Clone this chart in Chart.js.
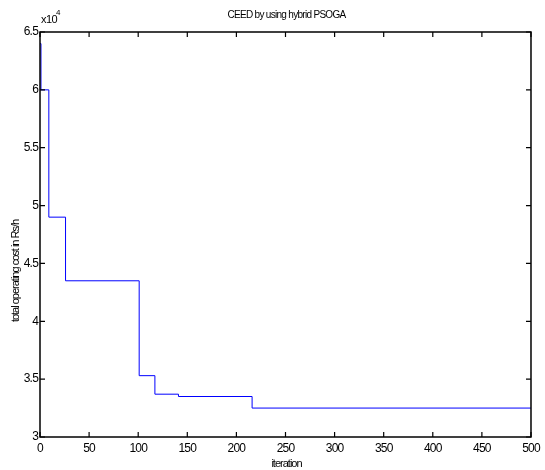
<!DOCTYPE html>
<html>
<head>
<meta charset="utf-8">
<script src="https://cdn.jsdelivr.net/npm/chart.js@4.4.0/dist/chart.umd.min.js"></script>
<style>
  html, body { margin: 0; padding: 0; background: #fff; }
  #wrap { width: 545px; height: 470px; }
</style>
</head>
<body>
<div id="wrap"><canvas id="costChart"></canvas></div>
<script>
// best cost so far at the iterations where it changes (Rs/h)
const iterations = [0, 1, 9, 26, 101, 117, 141, 216, 500];
const cost = [64000, 60000, 49000, 43500, 35300, 33700, 33500, 32500, 32500];

const xTicks = [0, 50, 100, 150, 200, 250, 300, 350, 400, 450, 500];
const yTicks = [30000, 35000, 40000, 45000, 50000, 55000, 60000, 65000];

const FONT = "'Liberation Sans', Arial, sans-serif";

// squeeze the text a bit, the old matlab export looks very condensed
const squeeze = {
  id: 'squeeze',
  beforeDraw(chart) {
    chart.ctx.letterSpacing = '-0.8px';
  }
};

// matlab style box with inward ticks, title, labels and exponent
const matlabBox = {
  id: 'matlabBox',
  afterDraw(chart) {
    const { ctx, chartArea: { left, right, top, bottom }, scales: { x, y } } = chart;
    ctx.save();
    ctx.strokeStyle = '#000';
    ctx.lineWidth = 1.5;
    ctx.strokeRect(left, top, right - left, bottom - top);
    ctx.lineWidth = 1.2;
    ctx.beginPath();
    xTicks.forEach(v => {
      const px = x.getPixelForValue(v);
      ctx.moveTo(px, bottom); ctx.lineTo(px, bottom - 5);
      ctx.moveTo(px, top); ctx.lineTo(px, top + 5);
    });
    yTicks.forEach(v => {
      const py = y.getPixelForValue(v);
      ctx.moveTo(left, py); ctx.lineTo(left + 5, py);
      ctx.moveTo(right, py); ctx.lineTo(right - 5, py);
    });
    ctx.stroke();

    ctx.fillStyle = '#000';
    ctx.textBaseline = 'middle';
    ctx.textAlign = 'center';
    ctx.letterSpacing = '-0.7px';
    ctx.font = '10px ' + FONT;
    ctx.fillText('CEED by using hybrid PSOGA', (left + right) / 2 + 1, 15);

    ctx.letterSpacing = '-1px';
    ctx.font = '11px ' + FONT;
    ctx.fillText('iteration', (left + right) / 2 + 1, 464);

    ctx.save();
    ctx.translate(16, 271);
    ctx.rotate(-Math.PI / 2);
    ctx.fillText('total operating cost in Rs/h', 0, 0);
    ctx.restore();

    ctx.letterSpacing = '-0.5px';
    ctx.textAlign = 'left';
    ctx.font = '11px ' + FONT;
    ctx.fillText('x10', left + 1, 20);
    ctx.font = '8px ' + FONT;
    ctx.fillText('4', left + 16, 13);
    ctx.restore();
  }
};

new Chart(document.getElementById('costChart'), {
  type: 'line',
  data: {
    datasets: [{
      data: iterations.map((it, i) => ({ x: it, y: cost[i] })),
      borderColor: '#0000ff',
      borderWidth: 1,
      pointRadius: 0,
      stepped: true,
      fill: false,
    }],
  },
  options: {
    responsive: true,
    maintainAspectRatio: false,
    animation: false,
    layout: { padding: { top: 32, right: 13, left: 0, bottom: 0 } },
    plugins: {
      legend: { display: false },
      tooltip: { enabled: false },
    },
    scales: {
      x: {
        type: 'linear',
        min: 0,
        max: 500,
        afterFit: s => { s.height = 33; },
        afterBuildTicks: s => { s.ticks = xTicks.map(v => ({ value: v })); },
        grid: { display: false, drawTicks: false },
        border: { display: false },
        ticks: {
          color: '#000',
          padding: 4,
          maxRotation: 0,
          autoSkip: false,
          font: { family: FONT, size: 12 },
        },
      },
      y: {
        min: 30000,
        max: 65000,
        afterFit: s => { s.width = 40; },
        afterBuildTicks: s => { s.ticks = yTicks.map(v => ({ value: v })); },
        grid: { display: false, drawTicks: false },
        border: { display: false },
        ticks: {
          color: '#000',
          padding: 2,
          autoSkip: false,
          font: { family: FONT, size: 12 },
          callback: v => String(v / 10000),
        },
      },
    },
  },
  plugins: [squeeze, matlabBox],
});
</script>
</body>
</html>
